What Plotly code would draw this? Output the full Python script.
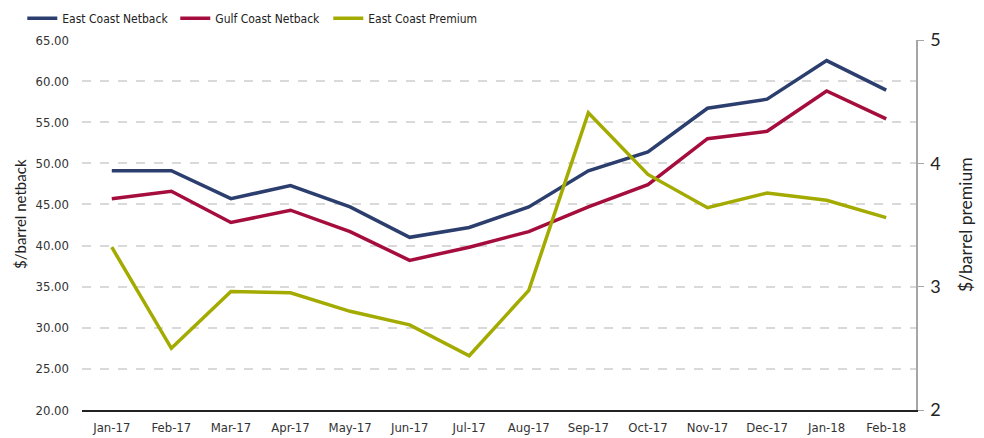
import plotly.graph_objects as go

months = ["Jan-17", "Feb-17", "Mar-17", "Apr-17", "May-17", "Jun-17", "Jul-17",
          "Aug-17", "Sep-17", "Oct-17", "Nov-17", "Dec-17", "Jan-18", "Feb-18"]
east_netback = [49.1, 49.1, 45.7, 47.3, 44.7, 41.0, 42.2, 44.7, 49.1, 51.4, 56.7, 57.8, 62.5, 58.9]
gulf_netback = [45.7, 46.6, 42.8, 44.3, 41.7, 38.2, 39.8, 41.7, 44.7, 47.4, 53.0, 53.9, 58.8, 55.4]
east_premium = [3.32, 2.50, 2.96, 2.95, 2.80, 2.69, 2.44, 2.97, 4.41, 3.91, 3.64, 3.76, 3.70, 3.56]

BLUE = "#2B3E6E"
RED = "#A50D3D"
GREEN = "#A3AB00"
narrow = "'Liberation Sans Narrow', 'DejaVu Sans Condensed', 'Arial Narrow', sans-serif"
calibri = "Lato, Carlito, Calibri, sans-serif"

fig = go.Figure()
fig.add_trace(go.Scatter(x=months, y=east_netback, name="East Coast Netback", mode="lines",
                         line=dict(color=BLUE, width=3.5)))
fig.add_trace(go.Scatter(x=months, y=gulf_netback, name="Gulf Coast Netback", mode="lines",
                         line=dict(color=RED, width=3.5)))
fig.add_trace(go.Scatter(x=months, y=east_premium, name="East Coast Premium", mode="lines",
                         line=dict(color=GREEN, width=3.5), yaxis="y2"))

fig.update_layout(
    width=984, height=438,
    margin=dict(l=74, r=76, t=32, b=36, autoexpand=False),
    plot_bgcolor="white", paper_bgcolor="white",
    font=dict(family=narrow, size=13, color="#333333"),
    showlegend=True,
    legend=dict(orientation="h", x=-0.0716, xanchor="left", y=1.059, yanchor="middle",
                font=dict(family=narrow, size=12, color="#222222"),
                entrywidth=108, entrywidthmode="pixels", itemwidth=30,
                bgcolor="rgba(0,0,0,0)"),
    xaxis=dict(type="category", showgrid=False, showline=True, linecolor="#222222",
               linewidth=1.5, ticks="", ticklabelstandoff=5,
               tickfont=dict(family=narrow, size=13, color="#333333"),
               range=[-0.5, 13.5]),
    yaxis=dict(range=[20, 65], dtick=5, tickformat=".2f", showgrid=True,
               gridcolor="#D9D9D9", griddash="dash", gridwidth=1.5, zeroline=False,
               showline=False, ticks="", ticklabelstandoff=12,
               tickfont=dict(family=narrow, size=13, color="#333333")),
    yaxis2=dict(range=[2, 5], dtick=1, overlaying="y", side="right", showgrid=False,
                zeroline=False, showline=True, linecolor="#A6A6A6", linewidth=1.5,
                ticks="outside", ticklen=6, tickcolor="#A6A6A6", ticklabelstandoff=3,
                tickfont=dict(family=calibri, size=18, color="#222222")),
    annotations=[
        dict(text="$/barrel netback", textangle=-90, xref="paper", yref="paper",
             x=(12 - 74) / 834, y=(410 - 214) / 370, xanchor="center", yanchor="middle",
             showarrow=False, font=dict(family=calibri, size=15, color="#222222")),
        dict(text="$/barrel premium", textangle=-90, xref="paper", yref="paper",
             x=(957 - 74) / 834, y=(410 - 225) / 370, xanchor="center", yanchor="middle",
             showarrow=False, font=dict(family=calibri, size=17.5, color="#222222")),
    ],
)

fig.write_html("out.html")
